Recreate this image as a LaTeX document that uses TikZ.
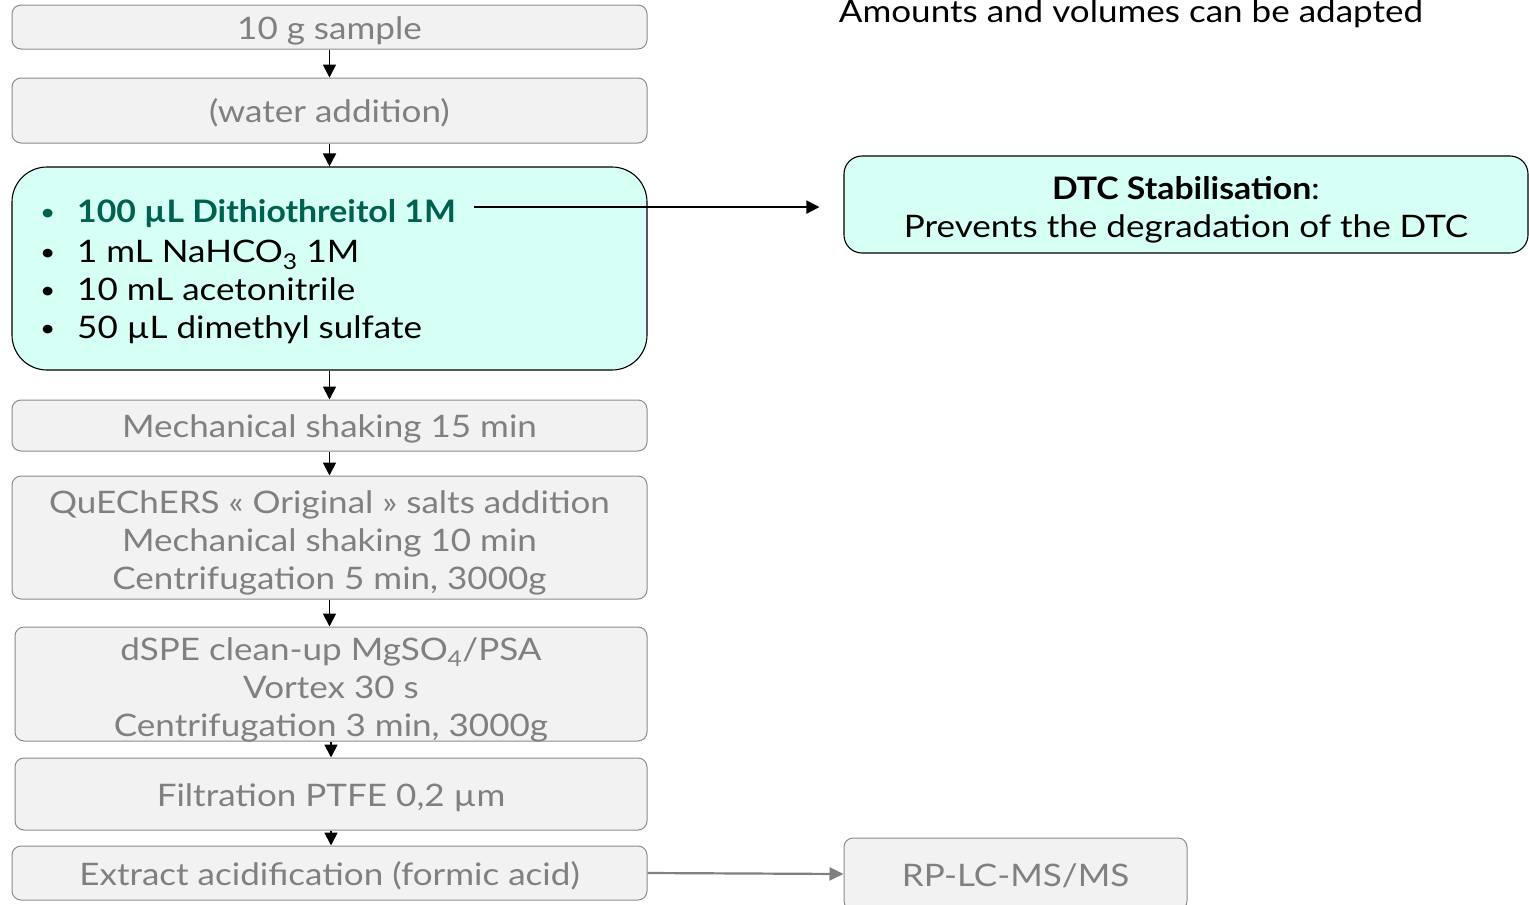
\documentclass[tikz,border=0pt]{standalone}
\usepackage{fontspec}
\setmainfont{Lato}[FakeStretch=1.13, BoldFeatures={FakeStretch=1.09}]
\usetikzlibrary{arrows.meta}
\definecolor{stepfill}{RGB}{242,242,242}
\definecolor{stepline}{RGB}{140,140,140}
\definecolor{steptext}{RGB}{128,128,128}
\definecolor{mixfill}{RGB}{214,255,245}
\definecolor{keygreen}{RGB}{0,98,78}
\newcommand\itembullet{\makebox[37pt][l]{\raisebox{1.5pt}{\scalebox{0.75}{•}}}}
\begin{document}
\begin{tikzpicture}[x=1pt,y=-1pt,
  bodyfont/.style={font=\fontsize{31}{38}\selectfont},
  % struts keep every box's text on the same optical centre line
  boxtext/.style={execute at begin node={\rule{0pt}{33pt}},
                  execute at end node={\rule[-9pt]{0pt}{9pt}}},
  multitext/.style={execute at begin node={\rule{0pt}{#1}}},
  graybox/.style={draw=stepline, fill=stepfill, rounded corners=9pt, line width=1pt,
    text=steptext, bodyfont, align=center, inner sep=0pt, boxtext},
  tealbox/.style={draw=black, fill=mixfill, line width=1.1pt, bodyfont, align=center,
    inner sep=0pt, boxtext},
  itemline/.style={anchor=base west, bodyfont, inner sep=0pt},
  flow/.style={-{Triangle[length=13pt,width=13pt]}, line width=1.8pt},
  grayflow/.style={-{Triangle[length=14pt,width=13pt]}, line width=2.2pt, draw=steptext}]
\useasboundingbox (0,0) rectangle (1529,905);

% main sequence of steps
\node[graybox, minimum width=635pt, minimum height=44pt] (sample) at (329.5,27) {10 g sample};
\node[graybox, minimum width=635pt, minimum height=65pt] (water) at (329.5,110.5) {(water addition)};
\node[draw=black, fill=mixfill, line width=1.1pt, minimum width=635pt, minimum height=203pt,
  rounded corners=35pt] (reag) at (329.5,268.5) {};
\node[graybox, minimum width=635pt, minimum height=51pt] (shake) at (329.5,425.5) {Mechanical shaking 15 min};
\node[graybox, multitext=113pt, minimum width=635pt, minimum height=123pt] (salts) at (329.5,537.5)
  {QuEChERS « Original » salts addition\\Mechanical shaking 10 min\\Centrifugation 5 min, 3000g};
% the last line of this box runs slightly past its lower edge
\node[graybox, text height=105pt, text depth=1pt, minimum width=632pt, minimum height=114pt] (dspe) at (331,684)
  {dSPE clean-up MgSO\textsubscript{4}/PSA\\Vortex 30 s\\Centrifugation 3 min, 3000g};
\node[graybox, minimum width=632pt, minimum height=72pt] (filt) at (331,794) {Filtration PTFE 0,2 µm};
\node[graybox, minimum width=635pt, minimum height=54pt] (acid) at (329.5,873) {Extract acidification (formic acid)};

% reagent list
\node[itemline, text=keygreen] (l1) at (40,222) {\itembullet\textbf{100 µL Dithiothreitol 1M}};
\node[itemline] (l2) at (40,262) {\itembullet 1 mL NaHCO\textsubscript{3} 1M};
\node[itemline] (l3) at (40,300) {\itembullet 10 mL acetonitrile};
\node[itemline] (l4) at (40,338) {\itembullet 50 µL dimethyl sulfate};

% side boxes
\node[tealbox, multitext=75pt, minimum width=684pt, minimum height=97pt, rounded corners=18pt] (dtc) at (1186,204.5)
  {\textbf{DTC Stabilisation}:\\Prevents the degradation of the DTC};
\node[graybox, minimum width=343pt, minimum height=72pt] (rp) at (1015.5,874) {RP-LC-MS/MS};

\node[anchor=base, bodyfont, inner sep=0pt] (note) at (1131,22) {Amounts and volumes can be adapted};

% connectors
\draw[flow] (sample.south) -- (water.north);
\draw[flow] (water.south) -- (reag.north);
\draw[flow] (reag.south) -- (shake.north);
\draw[flow] (shake.south) -- (salts.north);
\draw[flow] (salts.south) -- (salts.south |- dspe.north);
\draw[flow] (dspe.south) -- (filt.north);
\draw[flow] (filt.south) -- (filt.south |- acid.north);
\draw[flow, shorten <=18pt, shorten >=24pt] ([yshift=6pt]l1.east) -- ([yshift=6pt]l1.east -| dtc.west);
\draw[grayflow] (acid.east) -- (rp.west);
\end{tikzpicture}
\end{document}
